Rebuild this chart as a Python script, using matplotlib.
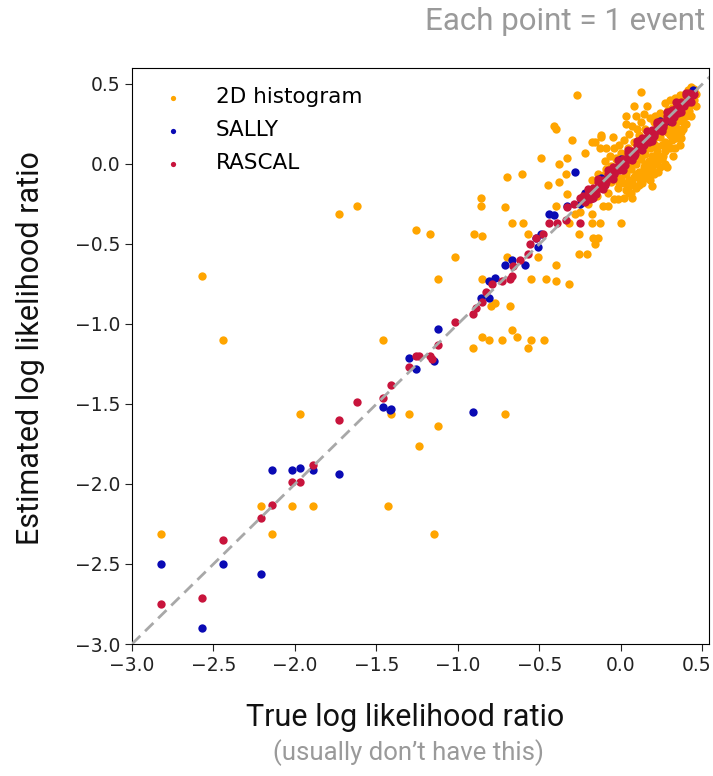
import numpy as np
import matplotlib
matplotlib.use("Agg")
import matplotlib.pyplot as plt
import matplotlib.transforms as mtransforms

# (true, estimated) log likelihood ratio per event
hist_outliers = [
    (-2.57, -0.70), (-2.44, -1.10), (-1.73, -0.31), (-1.62, -0.26), (-1.26, -0.41),
    (-1.17, -0.44), (-1.02, -0.58), (-1.12, -0.72), (-1.46, -1.10), (-1.97, -1.56),
    (-1.41, -1.56), (-1.30, -1.56), (-1.12, -1.64), (-1.24, -1.76), (-0.71, -1.56),
    (-2.21, -2.14), (-2.02, -2.14), (-1.89, -2.14), (-1.43, -2.14), (-2.14, -2.31),
    (-1.15, -2.31), (-2.82, -2.31), (-0.91, -1.15), (-0.85, -1.08), (-0.81, -1.10),
    (-0.73, -1.10), (-0.67, -1.04), (-0.64, -1.08), (-0.57, -1.15), (-0.55, -1.10),
    (-0.47, -1.10), (-0.68, -0.89), (-0.80, -0.89), (-0.77, -0.87), (-0.85, -0.72),
    (-0.55, -0.72), (-0.46, -0.72), (-0.40, -0.73), (-0.32, -0.75), (-0.40, -0.63),
    (-0.51, -0.58), (-0.70, -0.58), (-0.90, -0.44), (-0.85, -0.45), (-0.67, -0.37),
    (-0.60, -0.37), (-0.57, -0.44), (-0.71, -0.27), (-0.86, -0.21), (-0.86, -0.26),
    (-0.70, -0.08), (-0.61, -0.06), (-0.49, 0.04), (-0.45, -0.13), (-0.40, -0.26),
    (-0.38, 0.00), (-0.33, 0.04), (-0.41, 0.24), (-0.40, 0.22), (-0.30, 0.15),
    (-0.27, 0.43), (0.12, 0.45), (-0.38, -0.11), (-0.34, -0.06), (-0.33, -0.19),
    (-0.28, -0.31), (-0.32, -0.37), (-0.26, -0.44), (-0.26, -0.56), (-0.21, -0.56),
    (-0.18, -0.37), (-0.13, -0.37), (-0.17, -0.46), (-0.14, -0.46), (-0.16, -0.50),
    (0.00, -0.37), (-0.18, -0.31), (-0.11, -0.26), (-0.17, -0.18), (-0.02, -0.22),
    (0.05, -0.18), (-0.22, 0.07), (-0.18, 0.14), (-0.12, 0.17), (-0.09, 0.10),
    (-0.03, 0.04), (-0.05, 0.17), (0.03, 0.30), (0.08, 0.36),
]
hist_cluster = [
    (0.42, 0.40), (0.40, 0.36), (0.43, 0.45), (0.38, 0.30), (0.36, 0.33), (0.35, 0.27),
    (0.33, 0.25), (0.31, 0.22), (0.30, 0.18), (0.28, 0.20), (0.27, 0.14), (0.25, 0.12),
    (0.24, 0.17), (0.22, 0.08), (0.21, 0.12), (0.19, 0.05), (0.18, 0.10), (0.17, 0.02),
    (0.15, 0.06), (0.14, -0.02), (0.12, 0.03), (0.11, -0.05), (0.09, 0.00), (0.08, -0.08),
    (0.06, -0.03), (0.05, -0.10), (0.03, -0.06), (0.02, -0.12), (0.00, -0.09), (-0.02, -0.15),
    (0.39, 0.33), (0.41, 0.38), (0.37, 0.35), (0.34, 0.30), (0.32, 0.28), (0.29, 0.24),
    (0.26, 0.21), (0.23, 0.19), (0.20, 0.16), (0.16, 0.12), (0.13, 0.09), (0.10, 0.05),
    (0.07, 0.02), (0.04, -0.01), (0.01, -0.04), (-0.03, -0.08), (-0.06, -0.11),
    (0.38, 0.22), (0.34, 0.16), (0.30, 0.10), (0.26, 0.05), (0.24, -0.02), (0.20, -0.06),
    (0.16, -0.04), (0.13, -0.12), (0.09, -0.15), (0.06, -0.18), (0.36, 0.12), (0.32, 0.05),
    (0.28, -0.02), (0.22, 0.00), (0.18, -0.10), (0.02, -0.21), (-0.04, -0.22), (-0.08, -0.26),
    (0.44, 0.42), (0.45, 0.47), (0.43, 0.48), (0.41, 0.46), (0.39, 0.44), (0.46, 0.44),
    (0.44, 0.38), (0.42, 0.33), (0.36, 0.43), (0.33, 0.41), (0.30, 0.40), (0.27, 0.38),
    (0.31, 0.35), (0.24, 0.32), (0.21, 0.30), (0.18, 0.29), (0.14, 0.31), (0.12, 0.26),
    (0.10, 0.22), (0.07, 0.24), (0.05, 0.19), (0.02, 0.15), (-0.01, 0.12), (-0.04, 0.10),
    (-0.07, 0.05), (-0.10, 0.02), (-0.13, 0.10), (-0.16, 0.14), (-0.12, 0.18), (-0.09, -0.03),
    (-0.14, -0.06), (-0.18, -0.10), (0.16, 0.36), (0.09, 0.30), (0.03, 0.25),
    (0.40, 0.30), (0.38, 0.26), (0.37, 0.20), (0.35, 0.22), (0.33, 0.19), (0.31, 0.15),
    (0.29, 0.12), (0.27, 0.08), (0.25, 0.03), (0.23, 0.05), (0.21, 0.02), (0.19, -0.02),
    (0.17, -0.06), (0.15, 0.00), (0.13, -0.05), (0.11, -0.09), (0.09, -0.06), (0.07, -0.11),
    (0.05, -0.14), (0.03, -0.16), (0.42, 0.36), (0.40, 0.41), (0.38, 0.39), (0.36, 0.37),
    (0.34, 0.36), (0.32, 0.33), (0.30, 0.31), (0.28, 0.29), (0.26, 0.27), (0.24, 0.25),
    (0.22, 0.23), (0.20, 0.21), (0.18, 0.19), (0.35, 0.38), (0.29, 0.34), (0.25, 0.30),
    (0.20, 0.26), (0.15, 0.22), (0.11, 0.18), (0.08, 0.14), (0.04, 0.10), (0.00, 0.07),
    (-0.03, 0.03), (-0.06, -0.01), (-0.10, -0.06), (0.27, 0.00), (0.23, -0.05), (0.19, -0.14),
    (0.15, -0.09), (0.11, -0.13), (0.07, -0.21), (0.33, 0.10), (0.37, 0.16), (0.40, 0.25),
    (0.43, 0.30), (0.45, 0.40), (0.46, 0.36), (-0.20, -0.25), (-0.15, -0.20), (-0.25, -0.30),
    (-0.22, -0.18), (-0.12, -0.14), (-0.08, -0.18), (-0.05, -0.05), (-0.01, -0.12),
]

sally_outliers = [
    (-2.82, -2.50), (-2.57, -2.90), (-2.44, -2.50), (-2.21, -2.56), (-2.14, -1.91),
    (-2.02, -1.91), (-1.97, -1.90), (-1.89, -1.91), (-1.73, -1.94), (-1.46, -1.52),
    (-1.42, -1.54), (-1.41, -1.53), (-0.91, -1.55), (-1.30, -1.21), (-1.26, -1.28),
    (-1.15, -1.23), (-1.12, -1.03), (-0.86, -0.84), (-0.81, -0.84), (-0.81, -0.73),
    (-0.77, -0.71), (-0.67, -0.60), (-0.71, -0.63), (-0.59, -0.63), (-0.51, -0.52),
    (-0.49, -0.44), (-0.41, -0.32), (-0.33, -0.26), (-0.28, -0.05), (-0.25, -0.25),
    (-0.44, -0.31), (-0.52, -0.46),
]
sally_diag = [
    (-0.22, -0.18), (-0.18, -0.21), (-0.12, -0.09), (-0.06, -0.08), (0.00, 0.03),
    (0.06, 0.03), (0.12, 0.15), (0.18, 0.15), (0.24, 0.27), (0.30, 0.27),
    (0.36, 0.38), (0.42, 0.44), (0.44, 0.46),
]

rascal_outliers = [
    (-2.82, -2.75), (-2.57, -2.71), (-2.44, -2.35), (-2.21, -2.21), (-2.14, -2.13),
    (-2.02, -1.99), (-1.97, -1.99), (-1.89, -1.88), (-1.73, -1.60), (-1.62, -1.49),
    (-1.46, -1.46), (-1.41, -1.38), (-1.30, -1.27), (-1.26, -1.20), (-1.24, -1.20),
    (-1.17, -1.20), (-1.16, -1.22), (-1.12, -1.13), (-1.02, -0.99), (-0.91, -0.94),
    (-0.89, -0.90), (-0.85, -0.86), (-0.83, -0.80), (-0.79, -0.75), (-0.73, -0.73),
    (-0.68, -0.72), (-0.67, -0.70), (-0.66, -0.64), (-0.62, -0.60), (-0.57, -0.56),
    (-0.56, -0.50), (-0.52, -0.46), (-0.48, -0.44), (-0.44, -0.37), (-0.39, -0.37),
    (-0.34, -0.35), (-0.33, -0.27), (-0.29, -0.25), (-0.25, -0.37), (-0.25, -0.21),
]
rascal_diag_x = [-0.23, -0.22, -0.20, -0.19, -0.17, -0.16, -0.14, -0.13, -0.11, -0.10,
                 -0.08, -0.07, -0.05, -0.04, -0.02, -0.01, 0.01, 0.02, 0.04, 0.05,
                 0.07, 0.08, 0.10, 0.11, 0.13, 0.14, 0.16, 0.17, 0.19, 0.20,
                 0.22, 0.23, 0.25, 0.26, 0.28, 0.29, 0.31, 0.32, 0.34, 0.35,
                 0.37, 0.38, 0.40, 0.41, 0.43, 0.44,
                 -0.215, -0.185, -0.155, -0.125, -0.095, -0.065, -0.035, -0.005, 0.025, 0.055,
                 0.085, 0.115, 0.145, 0.175, 0.205, 0.235, 0.265, 0.295, 0.325, 0.355,
                 0.385, 0.415, 0.445,
                 -0.20, -0.17, -0.14, -0.11, -0.08, -0.05, -0.02, 0.01, 0.04, 0.07,
                 0.10, 0.13, 0.16, 0.19, 0.22, 0.25, 0.28, 0.31, 0.34, 0.37,
                 0.40, 0.43]
rascal_diag_y = [-0.20, -0.24, -0.19, -0.22, -0.15, -0.17, -0.11, -0.15, -0.10, -0.13,
                 -0.06, -0.08, -0.02, -0.06, -0.01, -0.04, 0.03, 0.01, 0.07, 0.03,
                 0.08, 0.05, 0.12, 0.10, 0.16, 0.12, 0.17, 0.14, 0.21, 0.19,
                 0.25, 0.21, 0.26, 0.23, 0.30, 0.28, 0.34, 0.30, 0.35, 0.32,
                 0.39, 0.37, 0.43, 0.39, 0.44, 0.43,
                 -0.225, -0.165, -0.185, -0.115, -0.115, -0.035, -0.045, 0.015, -0.005, 0.065,
                 0.065, 0.145, 0.135, 0.195, 0.175, 0.265, 0.255, 0.325, 0.295, 0.365,
                 0.365, 0.445, 0.435,
                 -0.155, -0.215, -0.095, -0.155, -0.035, -0.095, 0.025, -0.035, 0.085, 0.025,
                 0.145, 0.085, 0.205, 0.145, 0.265, 0.205, 0.325, 0.265, 0.385, 0.325,
                 0.445, 0.385]

hist = np.array(hist_outliers + hist_cluster)
sally = np.array(sally_outliers + sally_diag)
rascal = np.array(rascal_outliers + list(zip(rascal_diag_x, rascal_diag_y)))

ticks = [-3.0, -2.5, -2.0, -1.5, -1.0, -0.5, 0.0, 0.5]

text_font = ["Roboto", "DejaVu Sans"]
grey = "#9a9a9a"

fig = plt.figure(figsize=(7.13, 7.76), dpi=100)
ax = fig.add_axes([0.1851, 0.1701, 0.8093, 0.7423])

ax.scatter(hist[:, 0], hist[:, 1], s=36, color="#ffa500", linewidths=0, label="2D histogram")
ax.scatter(sally[:, 0], sally[:, 1], s=36, color="#0a0ab4", linewidths=0, label="SALLY")
ax.scatter(rascal[:, 0], rascal[:, 1], s=36, color="#c8143c", linewidths=0, label="RASCAL")
ax.plot([-3, 1], [-3, 1], color="#a8a8a8", lw=2.0, dashes=[4.2, 2.4], zorder=5)

ax.set_xlim(-3.0, 0.54)
ax.set_ylim(-3.0, 0.6)
ax.set_xticks(ticks)
ax.set_yticks(ticks)
ax.tick_params(labelsize=13.5, length=5, colors="#222222")

# keep the last x tick label inside the figure edge
last = ax.get_xticklabels()[-1]
last.set_transform(last.get_transform() +
                   mtransforms.ScaledTranslation(-6 / 100, 0, fig.dpi_scale_trans))

ax.legend(loc="upper left", frameon=False, fontsize=15.5, markerscale=0.63,
          handletextpad=1.0, labelspacing=0.6)

fig.text(31 / 713, 1 - 348 / 776, "Estimated log likelihood ratio", rotation=90,
         ha="center", va="center", fontsize=22, family=text_font, color="#111111")
fig.text(405 / 713, 1 - 717 / 776, "True log likelihood ratio",
         ha="center", va="center", fontsize=22, family=text_font, color="#111111")
fig.text(408 / 713, 1 - 753 / 776, "(usually don\u2019t have this)",
         ha="center", va="center", fontsize=18.5, family=text_font, color=grey)
fig.text(705 / 713, 1 - 22 / 776, "Each point = 1 event",
         ha="right", va="center", fontsize=22.5, family=text_font, color=grey)

fig.savefig("out.png", dpi=100)
